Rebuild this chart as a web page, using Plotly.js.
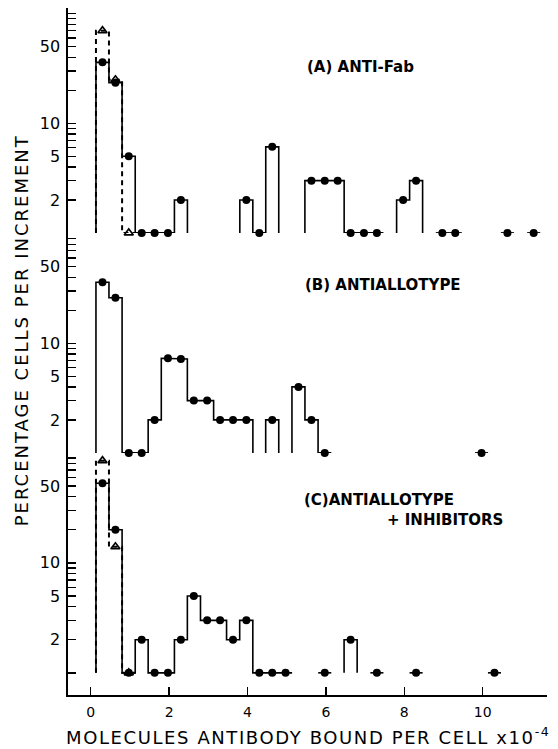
<!DOCTYPE html>
<html>
<head>
<meta charset="utf-8">
<script src="https://cdn.plot.ly/plotly-3.0.1.min.js"></script>
<style>
  html, body { margin: 0; padding: 0; background: #fff; }
  #chart { width: 558px; height: 749px; }
</style>
</head>
<body>
<div id="chart"></div>
<script>
// ---- data (bin centres in units of 10^4 molecules/cell; percent of cells) ----
const BIN_WIDTH = 1/3;
const BASELINE = 1;

// (A) ANTI-Fab — solid histogram (filled circles)
const A_bins   = [0.30, 0.63, 0.97, 1.30, 1.63, 1.97, 2.30, 3.97, 4.30, 4.63, 5.63, 5.97, 6.30, 6.63, 6.97, 7.30, 7.97, 8.30, 8.97, 9.30, 10.63, 11.30];
const A_values = [36, 23.5, 5, 1, 1, 1, 2, 2, 1, 6.1, 3, 3, 3, 1, 1, 1, 2, 3, 1, 1, 1, 1];
// (A) dashed histogram (open triangles)
const A_dash_bins   = [0.30, 0.63, 0.97];
const A_dash_values = [70, 25, 1];

// (B) ANTIALLOTYPE
const B_bins   = [0.30, 0.63, 0.97, 1.30, 1.63, 1.97, 2.30, 2.63, 2.97, 3.30, 3.63, 3.97, 4.63, 5.30, 5.63, 5.97, 9.97];
const B_values = [36, 26, 1, 1, 2, 7.3, 7.2, 3, 3, 2, 2, 2, 2, 4, 2, 1, 1];

// (C) ANTIALLOTYPE + INHIBITORS
const C_bins   = [0.30, 0.63, 0.97, 1.30, 1.63, 1.97, 2.30, 2.63, 2.97, 3.30, 3.63, 3.97, 4.30, 4.63, 4.97, 5.97, 6.63, 7.30, 8.30, 10.30];
const C_values = [53, 20, 1, 2, 1, 1, 2, 5, 3, 3, 2, 3, 1, 1, 1, 1, 2, 1, 1, 1];
const C_dash_bins   = [0.30, 0.63, 0.97];
const C_dash_values = [85, 14, 1];

// axis ticks
const xTicks = [0, 2, 4, 6, 8, 10];
const xTickText = ['0', '2', '4', '6', '8', '10'];
const yTickVals = [1, 2, 3, 4, 5, 6, 7, 8, 9, 10, 20, 30, 40, 50, 60, 70, 80, 90, 100];
const yTickText = [' ', '2', ' ', ' ', '5', ' ', ' ', ' ', ' ', '10', ' ', ' ', ' ', '50', ' ', ' ', ' ', ' ', ' '];

const panelLabels = ['(A) ANTI-Fab', '(B) ANTIALLOTYPE', '(C)ANTIALLOTYPE', '+ INHIBITORS'];
const xTitle = 'MOLECULES ANTIBODY BOUND PER CELL x10<sup>-4</sup>';
const yTitle = 'PERCENTAGE CELLS PER INCREMENT';

// ---- build histogram outline from bins ----
function stepOutline(bins, vals) {
  const xs = [], ys = [];
  const n = bins.length;
  const contig = (i, j) => Math.abs(bins[j] - bins[i]) < 1.5 * BIN_WIDTH;
  for (let i = 0; i < n; i++) {
    const prevC = i > 0 && contig(i - 1, i);
    const nextC = i < n - 1 && contig(i, i + 1);
    const left = prevC ? (bins[i - 1] + bins[i]) / 2 : bins[i] - BIN_WIDTH / 2;
    const right = nextC ? (bins[i] + bins[i + 1]) / 2 : bins[i] + BIN_WIDTH / 2;
    if (!prevC) { xs.push(left); ys.push(BASELINE); }
    xs.push(left); ys.push(vals[i]);
    xs.push(right); ys.push(vals[i]);
    if (!nextC) { xs.push(right); ys.push(BASELINE); xs.push(null); ys.push(null); }
  }
  return {xs, ys};
}

const FONT = 'DejaVu Sans, Liberation Sans, sans-serif';
const traces = [];
function addHist(bins, vals, yaxis, dashed) {
  const o = stepOutline(bins, vals);
  traces.push({
    type: 'scatter', mode: 'lines', x: o.xs, y: o.ys, yaxis: yaxis, xaxis: 'x',
    line: {color: '#000', width: dashed ? 2 : 1.6, dash: dashed ? '5px,4px' : 'solid'},
    connectgaps: false, cliponaxis: false, hoverinfo: 'skip', showlegend: false
  });
}
function addMarkers(bins, vals, yaxis, dashed) {
  traces.push({
    type: 'scatter', mode: 'markers', x: bins, y: vals, yaxis: yaxis, xaxis: 'x',
    marker: dashed
      ? {symbol: 'triangle-up-open', size: 8, color: '#000', line: {color: '#000', width: 1.6}}
      : {symbol: 'circle', size: 8, color: '#000'},
    cliponaxis: false, showlegend: false
  });
}
addHist(A_dash_bins, A_dash_values, 'y', true);
addHist(A_bins, A_values, 'y', false);
addMarkers(A_dash_bins, A_dash_values, 'y', true);
addMarkers(A_bins, A_values, 'y', false);

addHist(B_bins, B_values, 'y2', false);
addMarkers(B_bins, B_values, 'y2', false);

addHist(C_dash_bins, C_dash_values, 'y3', true);
addHist(C_bins, C_values, 'y3', false);
addMarkers(C_dash_bins, C_dash_values, 'y3', true);
addMarkers(C_bins, C_values, 'y3', false);

function yAxis(domain, range) {
  return {
    type: 'log', domain: domain, range: range, anchor: 'x',
    showline: true, linecolor: '#000', linewidth: 1.6, mirror: false,
    showgrid: false, zeroline: false,
    tickmode: 'array', tickvals: yTickVals, ticktext: yTickText,
    ticks: 'inside', ticklen: 8, tickwidth: 1.4, tickcolor: '#000',
    ticklabelstandoff: 3,
    tickfont: {family: FONT, size: 16, color: '#000'}
  };
}

const SP = 'letter-spacing:1.6px';
const layout = {
  width: 558, height: 749,
  margin: {l: 68, r: 11, t: 8, b: 54, pad: 0},
  paper_bgcolor: '#fff', plot_bgcolor: '#fff',
  showlegend: false,
  xaxis: {
    range: [-0.58, 11.64], anchor: 'y3',
    showline: true, linecolor: '#000', linewidth: 1.6,
    showgrid: false, zeroline: false,
    tickmode: 'array', tickvals: xTicks, ticktext: xTickText,
    ticks: 'inside', ticklen: 8, tickwidth: 1.4, tickcolor: '#000',
    ticklabelstandoff: 4,
    tickfont: {family: FONT, size: 14, color: '#000'}
  },
  yaxis: yAxis([0.6726, 1], [0, 2.052]),
  yaxis2: yAxis([0.3524, 0.6726], [0, 2.007]),
  yaxis3: yAxis([0, 0.3524], [-0.2016, 2.0]),
  annotations: [
    {text: panelLabels[0], xref: 'x', yref: 'paper', x: 5.47, y: 0.9146, xanchor: 'left', yanchor: 'middle', showarrow: false,
     font: {family: FONT, size: 15, color: '#000', weight: 'bold'}},
    {text: panelLabels[1], xref: 'x', yref: 'paper', x: 5.42, y: 0.5968, xanchor: 'left', yanchor: 'middle', showarrow: false,
     font: {family: FONT, size: 15, color: '#000', weight: 'bold'}},
    {text: panelLabels[2], xref: 'x', yref: 'paper', x: 5.38, y: 0.2838, xanchor: 'left', yanchor: 'middle', showarrow: false,
     font: {family: FONT, size: 15, color: '#000', weight: 'bold'}},
    {text: panelLabels[3], xref: 'x', yref: 'paper', x: 7.5, y: 0.2547, xanchor: 'left', yanchor: 'middle', showarrow: false,
     font: {family: FONT, size: 15, color: '#000', weight: 'bold'}},
    {text: '<span style="' + SP + '">' + xTitle + '</span>', xref: 'paper', yref: 'paper', x: 0.5, y: -0.0597,
     xanchor: 'center', yanchor: 'middle', showarrow: false,
     font: {family: FONT, size: 18, color: '#000'}},
    {text: '<span style="letter-spacing:2px">' + yTitle + '</span>', xref: 'paper', yref: 'paper', x: -0.098, y: 0.531,
     xanchor: 'center', yanchor: 'middle', textangle: -90, showarrow: false,
     font: {family: FONT, size: 18, color: '#000'}}
  ]
};

Plotly.newPlot('chart', traces, layout, {displayModeBar: false, staticPlot: true});
</script>
</body>
</html>
